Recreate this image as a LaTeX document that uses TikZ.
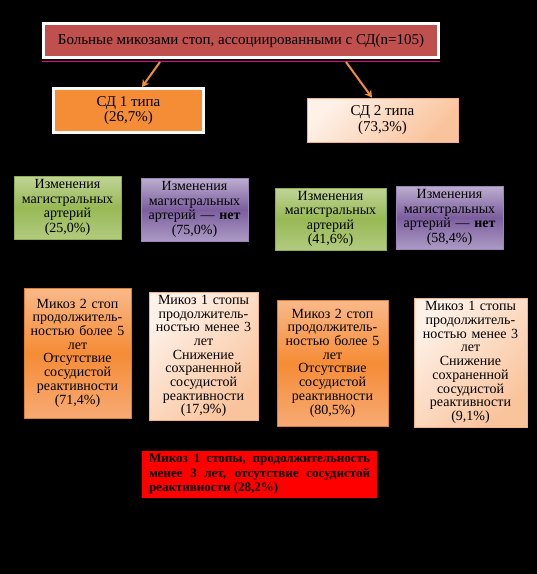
\documentclass[tikz,border=0pt]{standalone}
\usepackage{fontspec}
\setmainfont{Liberation Serif}
\usetikzlibrary{arrows.meta}
\begin{document}
\begin{tikzpicture}[x=1pt,y=-1pt,
  txt/.style={align=center,font=\fontsize{14}{14.4}\selectfont,inner sep=0pt,text=black},
  tall/.style={font=\fontsize{14}{13.7}\selectfont},
  greenbox/.style={txt,draw=g4,line width=0.8pt,top color=g1,bottom color=g3,middle color=g2},
  purplebox/.style={txt,draw=p4,line width=0.8pt,top color=p1,bottom color=p3,middle color=p2},
  orangebox/.style={txt,tall,draw=o4,line width=0.8pt,top color=o1,bottom color=o3,middle color=o2},
  peachbox/.style={txt,draw=o5,line width=0.8pt,left color=pe1,right color=pe2,shading angle=45},
  arr/.style={draw=o2,line width=2pt,-{Stealth[length=7pt,width=8pt]}}
]
\definecolor{g1}{HTML}{C0D497}
\definecolor{g2}{HTML}{98B955}
\definecolor{g3}{HTML}{B2CA80}
\definecolor{g4}{HTML}{8FAF4E}
\definecolor{p1}{HTML}{BCAED0}
\definecolor{p2}{HTML}{7C5E9E}
\definecolor{p3}{HTML}{AC9AC4}
\definecolor{p4}{HTML}{9A86BA}
\definecolor{o1}{HTML}{F9B98A}
\definecolor{o2}{HTML}{F58C36}
\definecolor{o3}{HTML}{F7AA74}
\definecolor{o4}{HTML}{E07F32}
\definecolor{o5}{HTML}{F5B088}
\definecolor{pe1}{HTML}{FEF1E8}
\definecolor{pe2}{HTML}{F9C39B}
\definecolor{topred}{HTML}{C0504D}
\definecolor{redbox}{HTML}{FF0000}
\fill[black] (0,0) rectangle (537,574);
\useasboundingbox (0,0) rectangle (537,574);
% top
\node[txt,font=\fontsize{15}{16}\selectfont,fill=topred,draw=white,line width=3pt,minimum width=395,minimum height=34] (top) at (241,40.5) {Больные микозами стоп, ассоциированными с СД(n=105)};
\draw[magenta,line width=0.8pt] ([yshift=-2.5pt]top.south west) -- ([yshift=-2.5pt]top.south east);
% level 1
\node[txt,font=\fontsize{15}{15.5}\selectfont,fill=o2,draw=white!95!gray,line width=3pt,minimum width=150,minimum height=44] (sd1) at (128.5,110.5) {СД 1 типа\\(26,7\%)};
\node[peachbox,font=\fontsize{15}{15.5}\selectfont,minimum width=151,minimum height=44] (sd2) at (382.5,120) {СД 2 типа\\(73,3\%)};
\coordinate (a1) at (160,62);
\coordinate (a2) at (346,62);
\path[arr] (a1) -- (sd1.north -| 142,0);
\path[arr] (a2) -- (sd2.north -| 372,0);
% level 2
\node[greenbox,minimum width=107,minimum height=63,text width=104] (g1) at (67.5,207.5) {Изменения\\магистральных\\артерий\\(25,0\%)};
\node[purplebox,minimum width=107,minimum height=63,text width=104] (p1) at (194.5,209.5) {Изменения\\магистральных\\артерий — \textbf{нет}\\(75,0\%)};
\node[greenbox,minimum width=111,minimum height=62,text width=106] (g2) at (330.5,219) {Изменения\\магистральных\\артерий\\(41,6\%)};
\node[purplebox,minimum width=107,minimum height=63,text width=104] (p2) at (449.5,217.5) {Изменения\\магистральных\\артерий — \textbf{нет}\\(58,4\%)};
% level 3
\node[orangebox,minimum width=107,minimum height=130,text width=104] (A) at (77.5,353) {Микоз 2 стоп\\продолжитель-\\ностью более 5\\лет\\Отсутствие\\сосудистой\\реактивности\\(71,4\%)\\[12pt]};
\node[peachbox,tall,minimum width=109,minimum height=128,text width=106] (B) at (203.5,356) {Микоз 1 стопы\\продолжитель-\\ностью менее 3\\лет\\Снижение\\сохраненной\\сосудистой\\реактивности\\(17,9\%)};
\node[orangebox,minimum width=111,minimum height=126,text width=108] (C) at (332.5,363) {Микоз 2 стоп\\продолжитель-\\ностью более 5\\лет\\Отсутствие\\сосудистой\\реактивности\\(80,5\%)\\[10pt]};
\node[peachbox,tall,minimum width=113,minimum height=129,text width=110] (D) at (470.5,362.5) {Микоз 1 стопы\\продолжитель-\\ностью менее 3\\лет\\Снижение\\сохраненной\\сосудистой\\реактивности\\(9,1\%)};
% result
\node[txt,fill=redbox,minimum width=235,minimum height=47,text width=221,align=justify,font=\bfseries\fontsize{13}{14.5}\selectfont] (R) at (259.5,474.5) {Микоз 1 стопы, продолжительность\linebreak менее 3 лет, отсутствие сосудистой\linebreak реактивности (28,2\%)};
\end{tikzpicture}
\end{document}
